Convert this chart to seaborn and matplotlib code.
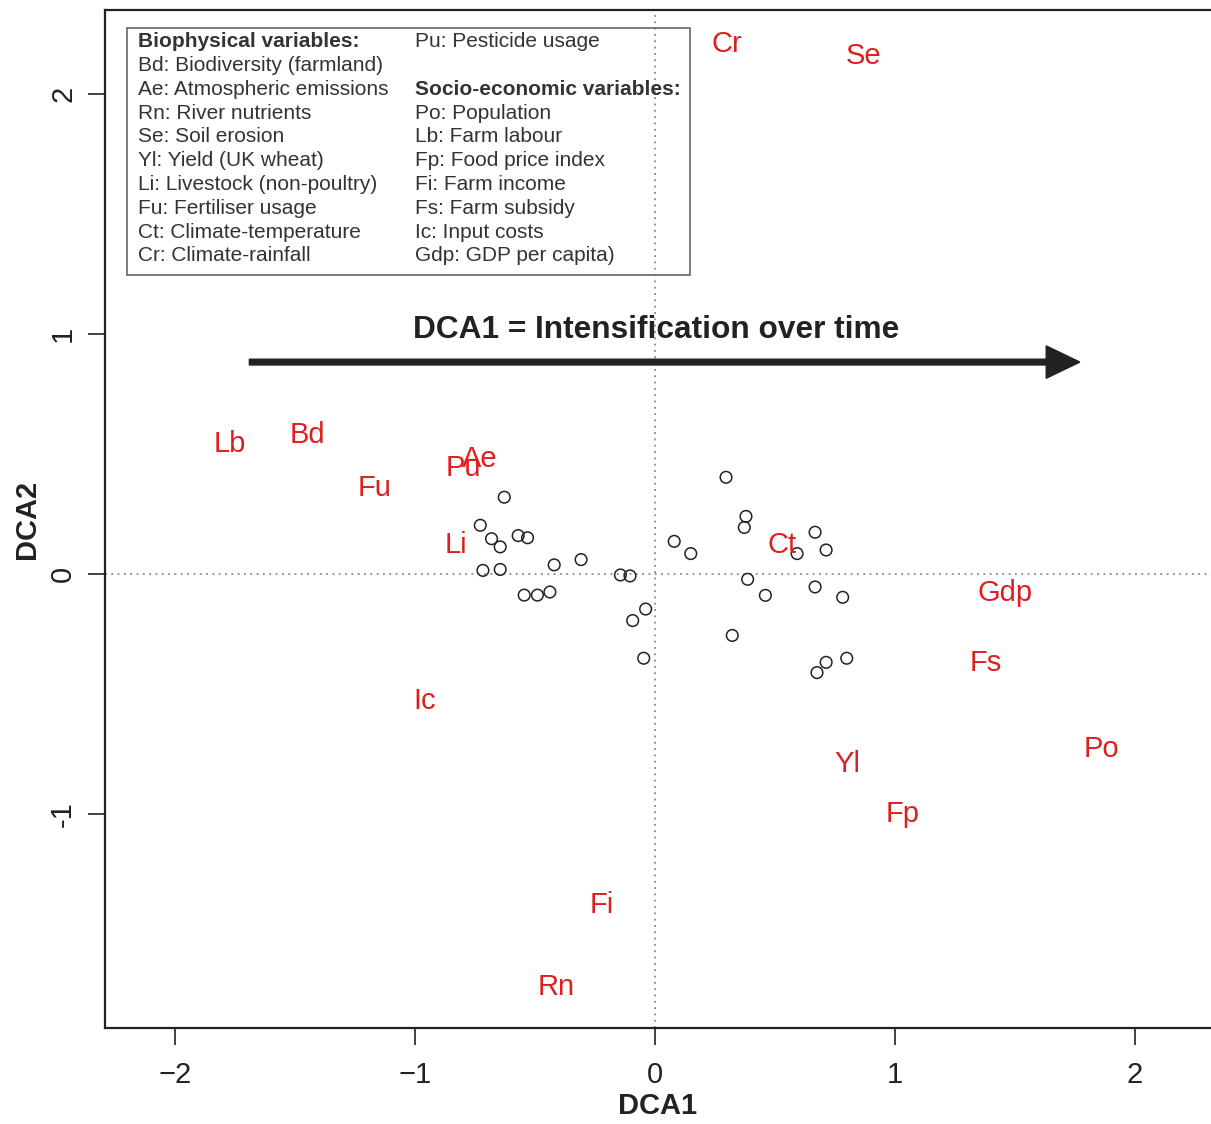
import matplotlib
matplotlib.use("Agg")
import matplotlib.pyplot as plt
import pandas as pd
import seaborn as sns
from matplotlib.patches import Rectangle

# Site scores on the first two DCA axes
site_dca1 = [0.296, -0.628, -0.728, -0.681, -0.645, -0.570, -0.531, -0.717, -0.645,
             -0.420, -0.308, -0.144, -0.104, -0.545, -0.490, -0.438, -0.039, -0.093,
             -0.047, 0.080, 0.149, 0.379, 0.372, 0.667, 0.713, 0.592, 0.386, 0.460,
             0.667, 0.782, 0.322, 0.799, 0.713, 0.675]
site_dca2 = [0.403, 0.320, 0.203, 0.147, 0.113, 0.160, 0.151, 0.015, 0.019,
             0.038, 0.060, -0.004, -0.008, -0.088, -0.088, -0.075, -0.146, -0.194,
             -0.351, 0.136, 0.085, 0.240, 0.194, 0.174, 0.100, 0.085, -0.022, -0.089,
             -0.054, -0.097, -0.256, -0.351, -0.368, -0.411]

# Variable scores (labels)
var_codes = ["Cr", "Se", "Lb", "Bd", "Fu", "Pu", "Ae", "Li", "Ct",
             "Gdp", "Fs", "Ic", "Po", "Yl", "Fp", "Fi", "Rn"]
var_dca1 = [0.30, 0.87, -1.77, -1.45, -1.17, -0.80, -0.73, -0.83, 0.53,
            1.46, 1.38, -0.96, 1.86, 0.80, 1.03, -0.22, -0.41]
var_dca2 = [2.21, 2.16, 0.54, 0.58, 0.36, 0.44, 0.48, 0.12, 0.12,
            -0.08, -0.37, -0.53, -0.73, -0.79, -1.00, -1.38, -1.72]

legend_left = ["Biophysical variables:", "Bd: Biodiversity (farmland)",
               "Ae: Atmospheric emissions", "Rn: River nutrients", "Se: Soil erosion",
               "Yl: Yield (UK wheat)", "Li: Livestock (non-poultry)",
               "Fu: Fertiliser usage", "Ct: Climate-temperature", "Cr: Climate-rainfall"]
legend_right = ["Pu: Pesticide usage", "", "Socio-economic variables:",
                "Po: Population", "Lb: Farm labour", "Fp: Food price index",
                "Fi: Farm income", "Fs: Farm subsidy", "Ic: Input costs",
                "Gdp: GDP per capita)"]
legend_headers = {"Biophysical variables:", "Socio-economic variables:"}

x_ticks = [-2, -1, 0, 1, 2]
y_ticks = [-1, 0, 1, 2]
arrow_text = "DCA1 = Intensification over time"

sns.set_theme(style="white")
plt.rcParams["font.family"] = ["Liberation Sans", "DejaVu Sans"]

RED = "#dd1f1f"
INK = "#222222"
LEG = "#333333"

fig = plt.figure(figsize=(12.11, 11.24), dpi=100)
ax = fig.add_axes([105 / 1211, 96 / 1124, 1 - 105 / 1211, (1028 - 10) / 1124])

sites = pd.DataFrame({"DCA1": site_dca1, "DCA2": site_dca2})

# reference lines through the origin
ax.axhline(0, color="#888888", ls=(0, (1, 2.5)), lw=1.3, zorder=1)
ax.axvline(0, color="#888888", ls=(0, (1, 2.5)), lw=1.3, zorder=1)

sns.scatterplot(data=sites, x="DCA1", y="DCA2", ax=ax, marker="o", s=70,
                color=INK, linewidth=1.1, zorder=3, legend=False)
ax.collections[-1].set_facecolor("none")
ax.collections[-1].set_edgecolor(INK)

for code, x, y in zip(var_codes, var_dca1, var_dca2):
    ax.text(x, y, code, color=RED, fontsize=21, ha="center", va="center", zorder=4)

# legend panel
ax.add_patch(Rectangle((-2.20, 1.246), 2.346, 1.029, fill=False,
                       edgecolor="#666666", lw=1.2, zorder=2))
row0, drow = 2.217, 0.0990
for i, line in enumerate(legend_left):
    ax.text(-2.155, row0 - i * drow, line, fontsize=15, color=LEG, va="center",
            ha="left", fontweight="bold" if line in legend_headers else "normal")
for i, line in enumerate(legend_right):
    ax.text(-1.0, row0 - i * drow, line, fontsize=15, color=LEG, va="center",
            ha="left", fontweight="bold" if line in legend_headers else "normal")

# intensification arrow
ax.arrow(-1.69, 0.883, 3.32, 0, width=0.024, head_width=0.135, head_length=0.14,
         length_includes_head=False, color=INK, zorder=3)
ax.text(0.005, 1.017, arrow_text, fontsize=22.8, fontweight="bold", color=INK,
        ha="center", va="center")

ax.set_xlim((105 - 655) / 240, (1211 - 655) / 240)
ax.set_ylim((574 - 1028) / 240, (574 - 10) / 240)
ax.set_xticks(x_ticks)
ax.set_yticks(y_ticks)
ax.set_xticklabels([f"{t:d}".replace("-", "\u2212") for t in x_ticks])
ax.set_yticklabels([f"{t:d}" for t in y_ticks], rotation=90, va="center")
ax.tick_params(axis="both", which="major", direction="out", length=12, width=1.2,
               color=INK, labelsize=21, labelcolor=INK, bottom=True, left=True)
ax.tick_params(axis="x", pad=12)
ax.tick_params(axis="y", pad=8)

for side in ["left", "bottom", "top"]:
    ax.spines[side].set_color(INK)
    ax.spines[side].set_linewidth(1.6)
ax.spines["right"].set_visible(False)

ax.set_xlabel("DCA1", fontsize=21, fontweight="bold", color=INK, labelpad=2)
ax.set_ylabel("DCA2", fontsize=21, fontweight="bold", color=INK, labelpad=6)

fig.savefig("out.png", dpi=100, facecolor="white")
